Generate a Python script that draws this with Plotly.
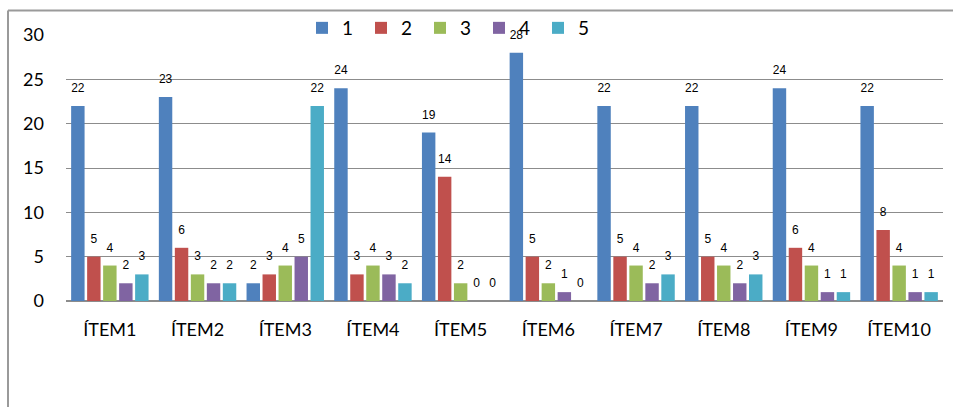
import plotly.graph_objects as go

categories = ["ÍTEM1", "ÍTEM2", "ÍTEM3", "ÍTEM4", "ÍTEM5",
              "ÍTEM6", "ÍTEM7", "ÍTEM8", "ÍTEM9", "ÍTEM10"]
series_names = ["1", "2", "3", "4", "5"]
values_1 = [22, 23, 2, 24, 19, 28, 22, 22, 24, 22]
values_2 = [5, 6, 3, 3, 14, 5, 5, 5, 6, 8]
values_3 = [4, 3, 4, 4, 2, 2, 4, 4, 4, 4]
values_4 = [2, 2, 5, 3, 0, 1, 2, 2, 1, 1]
values_5 = [3, 2, 22, 2, 0, 0, 3, 3, 1, 1]
colors = ["#4F81BD", "#C0504D", "#9BBB59", "#8064A2", "#4BACC6"]
y_ticks = [0, 5, 10, 15, 20, 25, 30]

all_values = [values_1, values_2, values_3, values_4, values_5]

W, H = 953, 407
ML, MR, MT, MB = 66, 10, 34, 106
plot_w = W - ML - MR
plot_h = H - MT - MB

fig = go.Figure()

for name, vals, col in zip(series_names, all_values, colors):
    fig.add_trace(go.Bar(
        x=categories, y=vals, name=name,
        marker=dict(color=col, line=dict(width=0)),
        offsetgroup=name,
    ))

# value labels sitting a little above each bar
for name, vals in zip(series_names, all_values):
    fig.add_trace(go.Scatter(
        x=categories, y=vals, mode="markers+text",
        text=[str(v) for v in vals], textposition="top center",
        textfont=dict(family="Liberation Sans", size=12, color="#000000"),
        marker=dict(size=16, opacity=0),
        offsetgroup=name, showlegend=False, hoverinfo="skip",
        cliponaxis=False,
    ))

# outer chart frame (top and left edges)
fx = (8 - ML) / plot_w
fy = (H - MB - 9.5) / plot_h
frame = dict(color="#9A9A9A", width=2)
fig.add_shape(type="line", xref="paper", yref="paper",
              x0=fx, x1=1.1, y0=fy, y1=fy, line=frame, layer="below")
fig.add_shape(type="line", xref="paper", yref="paper",
              x0=fx, x1=fx, y0=fy, y1=-0.5, line=frame, layer="below")

fig.update_layout(
    width=W, height=H,
    margin=dict(l=ML, r=MR, t=MT, b=MB, pad=0),
    paper_bgcolor="white", plot_bgcolor="white",
    barmode="group", bargap=0.088, bargroupgap=0.16,
    scattermode="group", scattergap=0.088,
    font=dict(family="Lato", color="#000000"),
    legend=dict(
        orientation="h", x=(302 - ML) / plot_w, xanchor="left",
        y=(H - MB - 28) / plot_h, yanchor="middle",
        font=dict(family="Lato", size=19, color="#000000"),
        bgcolor="rgba(0,0,0,0)", itemwidth=30,
        entrywidth=14, entrywidthmode="pixels",
        traceorder="normal",
    ),
    xaxis=dict(
        showgrid=False, showline=False, zeroline=False,
        tickfont=dict(family="Lato", size=18, color="#000000"),
        ticks="", ticklabelstandoff=16,
    ),
    yaxis=dict(
        range=[0, 30], tickvals=y_ticks,
        showgrid=True, gridcolor="#8C8C8C", gridwidth=1,
        zeroline=True, zerolinecolor="#8C8C8C", zerolinewidth=2,
        showline=False, ticks="",
        tickfont=dict(family="Lato", size=18, color="#000000"),
        ticklabelstandoff=21,
    ),
)

fig.write_html("out.html")
